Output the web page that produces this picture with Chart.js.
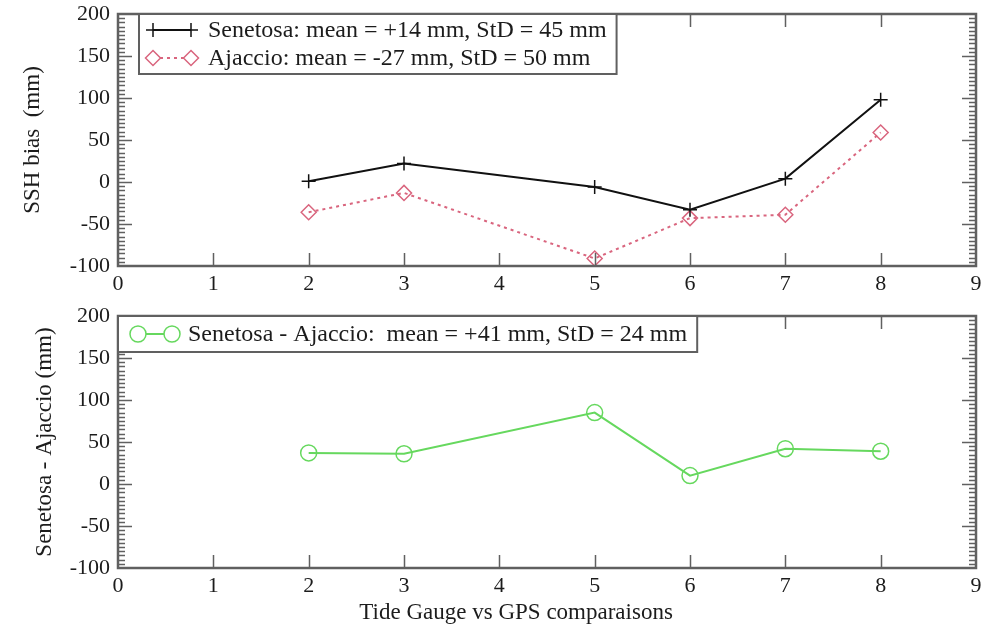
<!DOCTYPE html>
<html>
<head>
<meta charset="utf-8">
<title>SSH bias – Tide Gauge vs GPS</title>
<script src="https://cdn.jsdelivr.net/npm/chart.js@4.4.1/dist/chart.umd.min.js"></script>
<style>
  html, body { margin: 0; padding: 0; background: #fff; }
  .panel { position: absolute; left: 0; width: 991px; }
  #topPanel { top: 0; height: 300px; }
  #bottomPanel { top: 300px; height: 330px; }
</style>
</head>
<body>
<div class="panel" id="topPanel"><canvas id="biasChart"></canvas></div>
<div class="panel" id="bottomPanel"><canvas id="diffChart"></canvas></div>
<script>
// comparison index (x) and values in mm
const comparisons = [2, 3, 5, 6, 7, 8];
const senetosaBias = [1, 22, -6, -33, 4, 98];
const ajaccioBias = [-36, -13, -91, -43, -39, 59];
const differenceBias = [37, 36, 85, 10, 42, 39];

const xTickValues = [0, 1, 2, 3, 4, 5, 6, 7, 8, 9];
const yTickValues = [-100, -50, 0, 50, 100, 150, 200];
const yMinorStep = 5;

const topLegendLabels = [
  "Senetosa: mean = +14 mm, StD = 45 mm",
  "Ajaccio: mean = -27 mm, StD = 50 mm"
];
const bottomLegendLabels = ["Senetosa - Ajaccio:  mean = +41 mm, StD = 24 mm"];
const xAxisTitle = "Tide Gauge vs GPS comparaisons";

const SERIF = "'Liberation Serif', 'Times New Roman', serif";
const TEXT = "#1c1c1c";
const FRAME = "#606060";

const toPoints = (xs, ys) => xs.map((x, i) => ({ x, y: ys[i] }));

// frame + inward ticks, grace style
const frameTicks = {
  id: "frameTicks",
  afterDatasetsDraw(chart) {
    const { ctx, chartArea: a, scales: { x, y } } = chart;
    ctx.save();
    ctx.strokeStyle = FRAME;
    ctx.lineWidth = 1.5;
    ctx.beginPath();
    const yMin = yTickValues[0], yMax = yTickValues[yTickValues.length - 1];
    for (let v = yMin + yMinorStep; v < yMax; v += yMinorStep) {
      const py = Math.round(y.getPixelForValue(v)) + 0.5;
      const len = yTickValues.includes(v) ? 14 : 7;
      ctx.moveTo(a.left, py); ctx.lineTo(a.left + len, py);
      ctx.moveTo(a.right, py); ctx.lineTo(a.right - len, py);
    }
    xTickValues.slice(1, -1).forEach(v => {
      const px = Math.round(x.getPixelForValue(v)) + 0.5;
      ctx.moveTo(px, a.bottom); ctx.lineTo(px, a.bottom - 13);
      ctx.moveTo(px, a.top); ctx.lineTo(px, a.top + 13);
    });
    ctx.stroke();
    ctx.lineWidth = 2.5;
    ctx.strokeRect(a.left, a.top, a.right - a.left, a.bottom - a.top);
    ctx.restore();
  }
};

function drawMarker(ctx, style, x, y, r, color) {
  ctx.save();
  ctx.setLineDash([]);
  ctx.strokeStyle = color;
  ctx.lineWidth = 1.5;
  ctx.beginPath();
  if (style === "cross") {
    ctx.moveTo(x - r, y); ctx.lineTo(x + r, y);
    ctx.moveTo(x, y - r); ctx.lineTo(x, y + r);
  } else if (style === "rectRot") {
    ctx.moveTo(x, y - r); ctx.lineTo(x + r, y); ctx.lineTo(x, y + r); ctx.lineTo(x - r, y); ctx.closePath();
    ctx.fillStyle = "#fff"; ctx.fill();
  } else {
    ctx.arc(x, y, r, 0, Math.PI * 2);
    ctx.fillStyle = "#fff"; ctx.fill();
  }
  ctx.stroke();
  ctx.restore();
}

// boxed legend sitting inside the plot, plus optional x title
const boxLegend = {
  id: "boxLegend",
  afterDraw(chart, args, opts) {
    const { ctx, chartArea: a } = chart;
    const labels = opts.labels;
    ctx.save();
    ctx.font = "24px " + SERIF;
    const left = a.left + opts.boxOffset;
    const textX = left + opts.textOffset;
    const widest = Math.max(...labels.map(t => ctx.measureText(t).width));
    const top = a.top;
    const height = opts.firstRow * 2 + opts.rowHeight * (labels.length - 1);
    const width = textX + widest + 10 - left;
    ctx.fillStyle = "#fff";
    ctx.fillRect(left, top, width, height);
    ctx.strokeStyle = FRAME;
    ctx.lineWidth = 2;
    ctx.strokeRect(left, top, width, height);

    labels.forEach((text, i) => {
      const ds = chart.data.datasets[i];
      const cy = top + opts.firstRow + i * opts.rowHeight;
      const x1 = left + opts.markA, x2 = left + opts.markB;
      ctx.strokeStyle = ds.borderColor;
      ctx.lineWidth = ds.borderWidth;
      ctx.setLineDash(ds.borderDash || []);
      ctx.beginPath(); ctx.moveTo(x1, cy); ctx.lineTo(x2, cy); ctx.stroke();
      drawMarker(ctx, ds.pointStyle, x1, cy, ds.pointRadius, ds.borderColor);
      drawMarker(ctx, ds.pointStyle, x2, cy, ds.pointRadius, ds.borderColor);
      ctx.fillStyle = TEXT;
      ctx.textBaseline = "middle";
      ctx.textAlign = "left";
      ctx.fillText(text, textX, cy + 1);
    });

    if (opts.xTitle) {
      ctx.font = "23px " + SERIF;
      ctx.fillStyle = TEXT;
      ctx.textAlign = "center";
      ctx.textBaseline = "middle";
      ctx.fillText(opts.xTitle, a.left + 0.464 * (a.right - a.left), a.bottom + 45);
    }
    ctx.restore();
  }
};

function makeScales(xHeight, yTitle, yTitlePad) {
  return {
    x: {
      type: "linear",
      min: xTickValues[0],
      max: xTickValues[xTickValues.length - 1],
      afterBuildTicks: s => { s.ticks = xTickValues.map(v => ({ value: v })); },
      afterFit: s => { s.height = xHeight; s.paddingLeft = 0; s.paddingRight = 0; },
      grid: { display: false, drawTicks: false },
      border: { display: false },
      ticks: { color: TEXT, font: { family: SERIF, size: 22 }, padding: 5, maxRotation: 0, autoSkip: false }
    },
    y: {
      type: "linear",
      min: yTickValues[0],
      max: yTickValues[yTickValues.length - 1],
      afterBuildTicks: s => { s.ticks = yTickValues.map(v => ({ value: v })); },
      afterFit: s => { s.width = 118; s.paddingTop = 0; s.paddingBottom = 0; },
      grid: { display: false, drawTicks: false },
      border: { display: false },
      ticks: { color: TEXT, font: { family: SERIF, size: 22 }, padding: 8 },
      title: {
        display: true,
        text: yTitle,
        color: TEXT,
        font: { family: SERIF, size: 23 },
        padding: { top: yTitlePad, bottom: 0 }
      }
    }
  };
}

const commonOptions = {
  responsive: true,
  maintainAspectRatio: false,
  animation: false,
  events: [],
  plugins: { legend: { display: false }, tooltip: { enabled: false } }
};

new Chart(document.getElementById("biasChart"), {
  type: "line",
  data: {
    datasets: [
      {
        label: topLegendLabels[0],
        data: toPoints(comparisons, senetosaBias),
        borderColor: "#111111",
        borderWidth: 2,
        pointStyle: "cross",
        pointRadius: 7,
        pointBorderWidth: 1.5,
        pointBorderColor: "#111111",
        clip: false
      },
      {
        label: topLegendLabels[1],
        data: toPoints(comparisons, ajaccioBias),
        borderColor: "#d9657e",
        borderWidth: 2,
        borderDash: [3, 4],
        pointStyle: "rectRot",
        pointRadius: 7.5,
        pointBorderWidth: 1.5,
        pointBorderColor: "#d9657e",
        pointBackgroundColor: "rgba(255,255,255,0)",
        clip: false
      }
    ]
  },
  options: {
    ...commonOptions,
    layout: { padding: { left: 0, top: 14, right: 15, bottom: 0 } },
    scales: makeScales(34, "SSH bias  (mm)", 19),
    plugins: {
      ...commonOptions.plugins,
      boxLegend: { labels: topLegendLabels, boxOffset: 21, textOffset: 69, markA: 14, markB: 52, firstRow: 16, rowHeight: 28 }
    }
  },
  plugins: [frameTicks, boxLegend]
});

new Chart(document.getElementById("diffChart"), {
  type: "line",
  data: {
    datasets: [
      {
        label: bottomLegendLabels[0],
        data: toPoints(comparisons, differenceBias),
        borderColor: "#66d85e",
        borderWidth: 2,
        pointStyle: "circle",
        pointRadius: 8,
        pointBorderWidth: 1.5,
        pointBorderColor: "#66d85e",
        pointBackgroundColor: "rgba(255,255,255,0)",
        clip: false
      }
    ]
  },
  options: {
    ...commonOptions,
    layout: { padding: { left: 0, top: 16, right: 15, bottom: 0 } },
    scales: makeScales(62, "Senetosa - Ajaccio (mm)", 31),
    plugins: {
      ...commonOptions.plugins,
      boxLegend: { labels: bottomLegendLabels, boxOffset: 0, textOffset: 70, markA: 20, markB: 54, firstRow: 18, rowHeight: 28, xTitle: xAxisTitle }
    }
  },
  plugins: [frameTicks, boxLegend]
});
</script>
</body>
</html>
